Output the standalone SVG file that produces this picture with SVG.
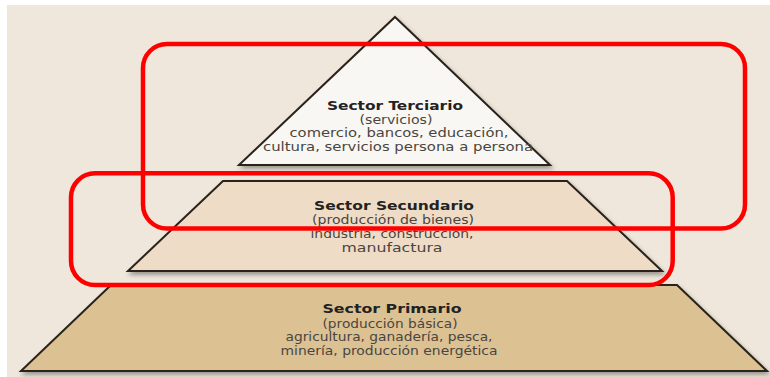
<svg xmlns="http://www.w3.org/2000/svg" width="770" height="377" viewBox="0 0 770 377">
<style>
.tier{stroke:#2a221a;stroke-width:2;stroke-linejoin:miter;filter:url(#sh)}
.t{font-family:"DejaVu Sans","Liberation Sans",sans-serif;font-size:11.5px;text-anchor:middle;fill:#4a4540}
.b{font-weight:bold;fill:#222;font-size:12px}
.hl{fill:none;stroke:#ff0000;stroke-width:4.5}
</style>
<defs>
<filter id="sh" x="-10%" y="-10%" width="125%" height="130%">
<feDropShadow dx="2" dy="3" stdDeviation="2" flood-color="#000" flood-opacity="0.35"/>
</filter>
</defs>
<rect x="0" y="0" width="770" height="377" fill="#ffffff"/>
<rect x="7" y="5" width="763" height="372" fill="#efe7db"/>
<g id="sector-primario">
<polygon class="tier" points="111,285 677,285 767,371 21,371" fill="#dcc193"/>
<text class="t b" x="392" y="313" textLength="139" lengthAdjust="spacingAndGlyphs">Sector Primario</text>
<text class="t" x="390" y="327.5" textLength="135" lengthAdjust="spacingAndGlyphs">(producción básica)</text>
<text class="t" x="389" y="341" textLength="207" lengthAdjust="spacingAndGlyphs">agricultura, ganadería, pesca,</text>
<text class="t" x="389" y="354.5" textLength="217" lengthAdjust="spacingAndGlyphs">minería, producción energética</text>
</g>
<g id="sector-secundario">
<polygon class="tier" points="223,181 567,181 662,271 128,271" fill="#efdcc7"/>
<text class="t b" x="394" y="210" textLength="160" lengthAdjust="spacingAndGlyphs">Sector Secundario</text>
<text class="t" x="393" y="224.3" textLength="162" lengthAdjust="spacingAndGlyphs">(producción de bienes)</text>
<text class="t" x="392" y="237.7" textLength="163" lengthAdjust="spacingAndGlyphs">industria, construcción,</text>
<text class="t" x="392" y="251.7" textLength="101" lengthAdjust="spacingAndGlyphs">manufactura</text>
</g>
<g id="sector-terciario">
<polygon class="tier" points="395,17 550,165 239,165" fill="#f9f7f3"/>
<text class="t b" x="395" y="110" textLength="136" lengthAdjust="spacingAndGlyphs">Sector Terciario</text>
<text class="t" x="396" y="124" textLength="73" lengthAdjust="spacingAndGlyphs">(servicios)</text>
<text class="t" x="399" y="137" textLength="219" lengthAdjust="spacingAndGlyphs">comercio, bancos, educación,</text>
<text class="t" x="398" y="150.5" textLength="270" lengthAdjust="spacingAndGlyphs">cultura, servicios persona a persona</text>
</g>
<g id="connectors">
<rect class="hl" x="143" y="44" width="602" height="184.5" rx="24" ry="24"/>
<rect class="hl" x="71" y="173.3" width="601.7" height="111.7" rx="24" ry="24"/>
</g>
</svg>
